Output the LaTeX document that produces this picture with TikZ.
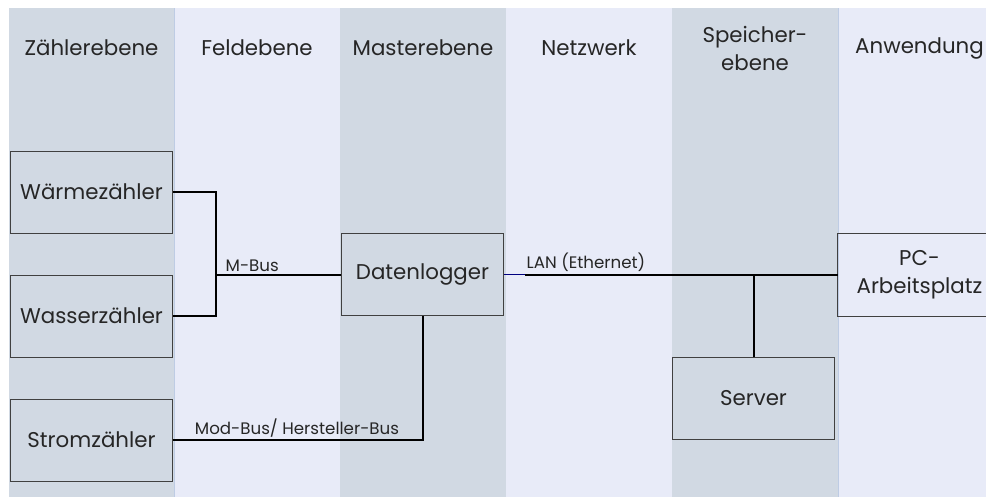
\documentclass[tikz,border=0pt]{standalone}
\usepackage{fontspec}
\setmainfont{Poppins}
\usetikzlibrary{positioning,calc}
\definecolor{banddark}{RGB}{209,217,227}
\definecolor{bandlight}{RGB}{232,235,248}
\definecolor{bandedge}{RGB}{190,204,228}
\definecolor{lanblue}{RGB}{0,0,128}

\begin{document}
\begin{tikzpicture}[
  x=0.75pt,y=-0.75pt,
  head/.style={
    font=\fontsize{16}{21}\selectfont,
    align=center,
    text=black!85
  },
  unit/.style={
    draw=black!75,
    line width=0.6pt,
    minimum width=122pt,
    minimum height=61.5pt,
    align=center,
    font=\fontsize{16}{21}\selectfont,
    text=black!85
  },
  bus/.style={
    draw=black,
    line width=1.5pt
  },
  buslabel/.style={
    font=\fontsize{12.5}{14}\selectfont,
    text=black!85,
    inner sep=1.5pt
  }
]
\useasboundingbox (0,0) rectangle (986,497);
\clip (0,0) rectangle (986,497);

% bands
\fill[banddark]  (9,8)   rectangle (174,497);
\fill[bandlight] (174,8) rectangle (340,497);
\fill[banddark]  (340,8) rectangle (506,497);
\fill[bandlight] (506,8) rectangle (672,497);
\fill[banddark]  (672,8) rectangle (838,497);
\fill[bandlight] (838,8) rectangle (1001,497);
\foreach \x in {174,838}
  \draw[bandedge,line width=0.5pt] (\x,8) -- (\x,497);

\node[head] (zaehler)  at (91.5,48) {Zählerebene};
\node[head] (feld)     at (257,48)  {Feldebene};
\node[head] (master)   at (423,48)  {Masterebene};
\node[head] (netz)     at (589,48)  {Netzwerk};
\node[head] (speicher) at (755,48)  {Speicher-\\ebene};
\node[head] (anw)      at (919.5,48) {Anwendung};

% devices
\node[unit] (waerme) at (91.5,192) {Wärmezähler};
\node[unit] (wasser) at (91.5,316) {Wasserzähler};
\node[unit] (strom)  at (91.5,440) {Stromzähler};
\node[unit] (logger) at (422.5,274.5) {Datenlogger};
\node[unit] (server) at (753.5,398.5) {Server};
\node[unit,draw=none] (pc) at (919.5,274.5) {PC-\\Arbeitsplatz};
% frame runs off the page on the right
\draw[black!75,line width=0.6pt] ($(pc.north east)+(40,0)$) -- (pc.north west)
  -- (pc.south west) -- ($(pc.south east)+(40,0)$);

\coordinate (mbus) at (216,274.5);
\coordinate (lan) at (525,274.5);

\draw[bus] (waerme.east) -| (mbus) |- (wasser.east);
\draw[bus] (mbus) -- node[buslabel,at start,anchor=south west,xshift=5pt] {M-Bus} (logger.west);
\draw[lanblue,line width=1pt] (logger.east) -- (lan);
\draw[bus] (lan) -- node[buslabel,at start,anchor=south west,xshift=-1pt] {LAN (Ethernet)} (pc.west);
\draw[bus] (server.north) -- (server.north |- pc.west);
\draw[bus] (logger.south) |- node[buslabel,at end,anchor=south west,xshift=14pt] {Mod-Bus/ Hersteller-Bus} (strom.east);
\end{tikzpicture}
\end{document}
